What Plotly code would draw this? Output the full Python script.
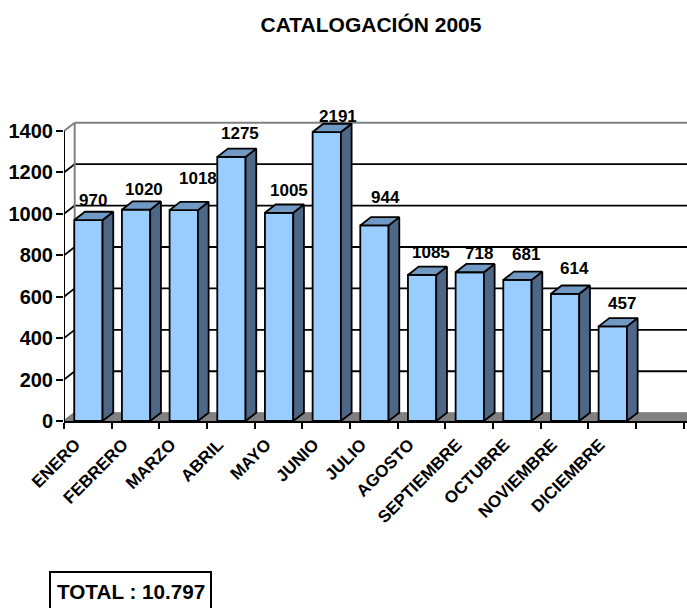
import plotly.graph_objects as go

# ---------- data ----------
months = ["ENERO", "FEBRERO", "MARZO", "ABRIL", "MAYO", "JUNIO", "JULIO", "AGOSTO",
          "SEPTIEMBRE", "OCTUBRE", "NOVIEMBRE", "DICIEMBRE"]
bar_heights = [970, 1020, 1018, 1275, 1005, 1395, 944, 705, 718, 681, 614, 457]
bar_labels = ["970", "1020", "1018", "1275", "1005", "2191", "944", "1085", "718", "681", "614", "457"]
y_ticks = [0, 200, 400, 600, 800, 1000, 1200, 1400]
title_text = "CATALOGACIÓN 2005"
total_text = "TOTAL : 10.797"

# ---------- style / layout ----------
W, H = 687, 608
L, T, B = 64, 120, 421
SLOT = 47.67                 # px per category
PX_PER_UNIT = 290 / 1400     # px per value unit
DEPTH_X = 10.7 / SLOT        # oblique depth in axis units
DEPTH_Y = 8.3 / PX_PER_UNIT
BAR_W = 28.3 / SLOT
BAR_SHIFT = 0.012
LABEL_SHIFT = 0.26           # rotated month labels end left of the bar centre
FONT = "Liberation Sans, Arial, sans-serif"
FRONT, SIDE, TOP, FLOOR, WALL = "#99CCFF", "#4F6787", "#7099C4", "#808080", "#808080"
EDGE = dict(color="black", width=1.8)
label_dx_px = [5, 8, 14, 9, 10, 11, 11, 9, 9, 9, 9, 9]
label_dy_px = [20, 20, 32, 23, 22, 16, 28, 22, 19, 25, 25, 23]

x0 = -0.5
x1 = x0 + (W - L) / SLOT
y1 = (B - T) / PX_PER_UNIT
centers = list(range(len(months)))
boundaries = [x0 + i for i in range(len(months) + 2)]

fig = go.Figure()

# front faces
fig.add_trace(go.Bar(x=centers, y=bar_heights, width=BAR_W, offset=-BAR_W / 2 + BAR_SHIFT,
                     marker=dict(color=FRONT, line=EDGE), showlegend=False, hoverinfo="skip"))

# side and top faces
side_x, side_y, top_x, top_y = [], [], [], []
for c, h in zip(centers, bar_heights):
    a = c - BAR_W / 2 + BAR_SHIFT
    b = a + BAR_W
    side_x += [b, b + DEPTH_X, b + DEPTH_X, b, b, None]
    side_y += [0, DEPTH_Y, h + DEPTH_Y, h, 0, None]
    top_x += [a, a + DEPTH_X, b + DEPTH_X, b, a, None]
    top_y += [h, h + DEPTH_Y, h + DEPTH_Y, h, h, None]
for xs, ys, col in ((side_x, side_y, SIDE), (top_x, top_y, TOP)):
    fig.add_trace(go.Scatter(x=xs, y=ys, mode="lines", fill="toself", fillcolor=col,
                             line=EDGE, showlegend=False, hoverinfo="skip"))

# value labels, anchored on each bar with a pixel nudge
annotations = [dict(x=c + BAR_SHIFT, y=h, xref="x", yref="y", text=f"<b>{t}</b>", showarrow=False,
                    xshift=dx, yshift=dy, xanchor="center", yanchor="middle",
                    font=dict(family=FONT, size=17, color="black"))
               for c, h, t, dx, dy in zip(centers, bar_heights, bar_labels, label_dx_px, label_dy_px)]
annotations.append(dict(text=f"<b>{total_text}</b>", xref="paper", yref="paper",
                        x=(130.5 - L) / (W - L), y=(B - 591) / (B - T), showarrow=False,
                        xanchor="center", yanchor="middle",
                        font=dict(family=FONT, size=20.7, color="black")))

# walls, floor and grid, behind the bars
shapes = []
shapes.append(dict(type="path", layer="below", xref="x", yref="y",
                   path=f"M {x0} 0 L {x0 + DEPTH_X} {DEPTH_Y} L {x1} {DEPTH_Y} L {x1} 0 Z",
                   fillcolor=FLOOR, line=dict(color=FLOOR, width=1)))
for t in y_ticks:
    grey = t in (0, 1400)
    col = WALL if grey else "black"
    wid = 2 if grey else 1.8
    shapes.append(dict(type="line", layer="below", xref="x", yref="y",
                       x0=x0, y0=t, x1=x0 + DEPTH_X, y1=t + DEPTH_Y, line=dict(color=col, width=wid)))
    if t > 0:
        shapes.append(dict(type="line", layer="below", xref="x", yref="y",
                           x0=x0 + DEPTH_X, y0=t + DEPTH_Y, x1=x1, y1=t + DEPTH_Y,
                           line=dict(color=col, width=wid)))
shapes.append(dict(type="line", layer="below", xref="x", yref="y",
                   x0=x0 + DEPTH_X, y0=DEPTH_Y, x1=x0 + DEPTH_X, y1=1400 + DEPTH_Y,
                   line=dict(color=WALL, width=2)))
# left axis line only up to the top tick
shapes.append(dict(type="line", layer="above", xref="x", yref="y",
                   x0=x0, y0=0, x1=x0, y1=1400, line=dict(color="black", width=2)))
# total box (its lower edge falls outside the page, as in the reference)
shapes.append(dict(type="rect", xref="paper", yref="paper",
                   x0=(50 - L) / (W - L), x1=(211 - L) / (W - L),
                   y0=(B - 640) / (B - T), y1=(B - 572) / (B - T),
                   line=dict(color="black", width=2), fillcolor="rgba(0,0,0,0)"))

fig.update_layout(
    width=W, height=H, margin=dict(l=L, r=0, t=T, b=H - B, pad=0),
    plot_bgcolor="white", paper_bgcolor="white", showlegend=False,
    font=dict(family=FONT, color="black"),
    title=dict(text=f"<b>{title_text}</b>", x=371 / W, xref="container", xanchor="center",
               y=1 - 25 / H, yref="container", yanchor="middle",
               font=dict(family=FONT, size=21, color="black")),
    shapes=shapes,
    annotations=annotations,
    xaxis=dict(range=[x0, x1], showgrid=False, zeroline=False, showline=True, linecolor="black",
               linewidth=2, tickmode="array", tickvals=[c - LABEL_SHIFT for c in centers],
               ticktext=[f"<b>{m}</b>" for m in months],
               tickangle=-45, ticks="", ticklabelstandoff=5,
               tickfont=dict(family=FONT, size=17, color="black"),
               minor=dict(tickmode="array", tickvals=boundaries, ticks="outside", ticklen=6,
                          tickwidth=1.5, tickcolor="black", showgrid=False)),
    yaxis=dict(range=[0, y1], showgrid=False, zeroline=False, showline=False,
               tickmode="array", tickvals=y_ticks, ticktext=[f"<b>{t}</b>" for t in y_ticks],
               ticks="outside", ticklen=7, tickwidth=2, tickcolor="black", ticklabelstandoff=-1,
               tickfont=dict(family=FONT, size=20, color="black")),
)

fig.write_html("out.html", config={"displayModeBar": False},
               post_script="document.body.style.margin='0';")
